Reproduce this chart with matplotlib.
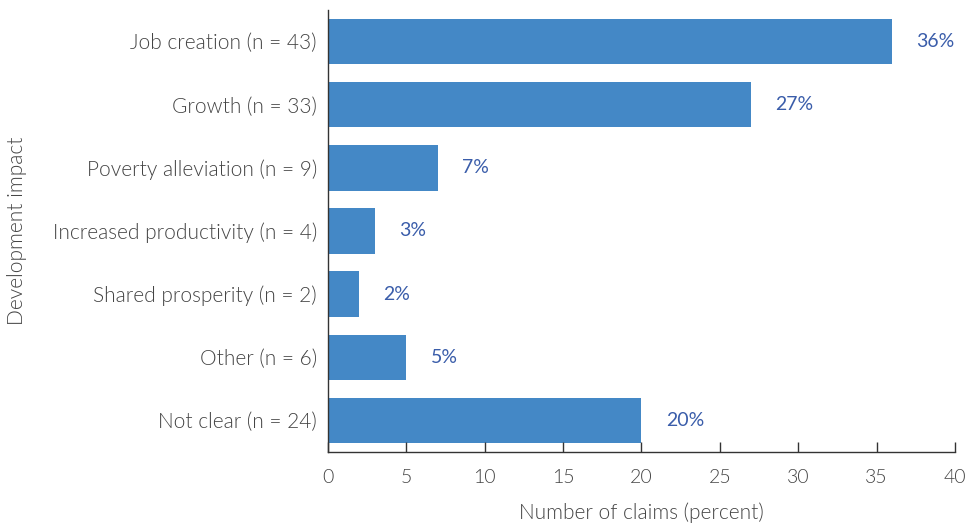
import matplotlib
matplotlib.use("Agg")
import matplotlib.pyplot as plt

# Claims by type of development impact
categories = ["Job creation (n = 43)", "Growth (n = 33)", "Poverty alleviation (n = 9)",
              "Increased productivity (n = 4)", "Shared prosperity (n = 2)",
              "Other (n = 6)", "Not clear (n = 24)"]
percent = [36, 27, 7, 3, 2, 5, 20]
ticks = [0, 5, 10, 15, 20, 25, 30, 35, 40]

plt.rcParams['font.family'] = ['Lato', 'DejaVu Sans']
txt = "#444444"

fig = plt.figure(figsize=(9.72, 5.23), dpi=100)
ax = fig.add_axes([0.3374, 0.1358, 0.6451, 0.8451])

pos = list(range(len(categories)))
ax.barh(pos, percent, height=0.72, color="#4488C6")

for y, v in zip(pos, percent):
    ax.text(v + 1.55, y, f"{v}%", va="center", ha="left", fontsize=14,
            color="#3A5DAA", fontweight="normal")

ax.set_yticks(pos)
ax.set_yticklabels(categories, fontsize=15, color=txt, fontweight=300)
ax.set_ylim(6.5, -0.5)
ax.set_xlim(0, 40)
ax.set_xticks(ticks)
ax.set_xticklabels([str(t) for t in ticks], fontsize=14, color=txt, fontweight=300)

ax.tick_params(axis="x", direction="in", length=7, width=1, color="#333333", pad=12)
ax.tick_params(axis="y", length=0, pad=8)

for s in ["top", "right"]:
    ax.spines[s].set_visible(False)
for s in ["left", "bottom"]:
    ax.spines[s].set_color("#333333")
    ax.spines[s].set_linewidth(1)

ax.set_xlabel("Number of claims (percent)", fontsize=15, color=txt,
              fontweight=300, labelpad=12)
ax.set_ylabel("Development impact", fontsize=15, color=txt, fontweight=300)
ax.yaxis.set_label_coords(-0.48, 0.5)

fig.savefig("out.png", dpi=100)
